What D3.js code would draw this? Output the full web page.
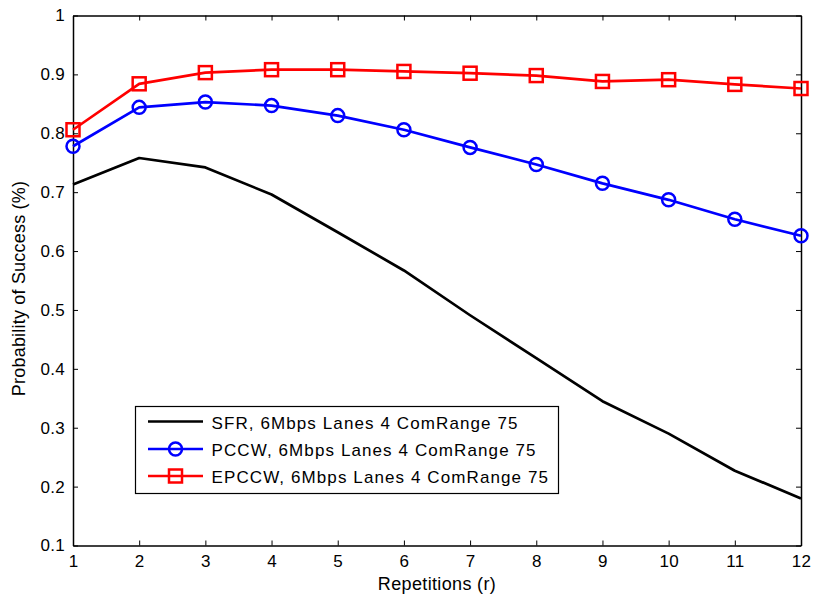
<!DOCTYPE html>
<html>
<head>
<meta charset="utf-8">
<script src="https://cdn.jsdelivr.net/npm/d3@7"></script>
<style>
  html, body { margin: 0; padding: 0; background: #fff; }
  svg { display: block; font-family: "Liberation Sans", Arial, sans-serif; }
</style>
</head>
<body>
<svg id="chart" width="814" height="599"></svg>
<script>
// Repetition counts along the x axis
const repetitions = [1, 2, 3, 4, 5, 6, 7, 8, 9, 10, 11, 12];

// Success probability per protocol
const sfrValues   = [0.713, 0.758, 0.742, 0.696, 0.632, 0.567, 0.491, 0.418, 0.345, 0.290, 0.227, 0.180];
const pccwValues  = [0.778, 0.844, 0.853, 0.847, 0.830, 0.806, 0.776, 0.747, 0.715, 0.687, 0.654, 0.626];
const epccwValues = [0.806, 0.884, 0.903, 0.908, 0.908, 0.905, 0.902, 0.898, 0.888, 0.891, 0.883, 0.876];

const seriesNames = [
  "SFR, 6Mbps Lanes 4 ComRange 75",
  "PCCW, 6Mbps Lanes 4 ComRange 75",
  "EPCCW, 6Mbps Lanes 4 ComRange 75"
];

const yTicks = [0.1, 0.2, 0.3, 0.4, 0.5, 0.6, 0.7, 0.8, 0.9, 1];

const series = [
  { name: seriesNames[0], values: sfrValues,   color: "#000000", marker: "none" },
  { name: seriesNames[1], values: pccwValues,  color: "#0000ff", marker: "circle" },
  { name: seriesNames[2], values: epccwValues, color: "#ff0000", marker: "square" }
];

const svg = d3.select("#chart");
const margin = { left: 73, right: 13, top: 15.5, bottom: 53.5 };
const W = 814, H = 599;
const x0 = margin.left, x1 = W - margin.right;
const y0 = H - margin.bottom, y1 = margin.top;

const x = d3.scaleLinear().domain([1, 12]).range([x0, x1]);
const y = d3.scaleLinear().domain([0.1, 1]).range([y0, y1]);

const tickFont = 17;

// Axes with inward ticks on all four sides
const axisBottom = d3.axisBottom(x).tickValues(repetitions).tickSizeInner(-5).tickSizeOuter(0).tickPadding(9).tickFormat(d3.format("d"));
const axisTop = d3.axisTop(x).tickValues(repetitions).tickSizeInner(-5).tickSizeOuter(0).tickFormat("");
const axisLeft = d3.axisLeft(y).tickValues(yTicks).tickSizeInner(-5).tickSizeOuter(0).tickPadding(8).tickFormat(d => d === 1 ? "1" : d3.format(".1f")(d));
const axisRight = d3.axisRight(y).tickValues(yTicks).tickSizeInner(-5).tickSizeOuter(0).tickFormat("");

function styleAxis(g) {
  g.select(".domain").attr("stroke", "#000").attr("stroke-width", 1.5);
  g.selectAll(".tick line").attr("stroke", "#000").attr("stroke-width", 1);
  g.selectAll(".tick text").attr("fill", "#000").attr("font-size", tickFont)
    .attr("font-family", "Liberation Sans, Arial, sans-serif").attr("letter-spacing", 0.3);
}

svg.append("g").attr("transform", `translate(0,${y0})`).call(axisBottom).call(styleAxis);
svg.append("g").attr("transform", `translate(0,${y1})`).call(axisTop).call(styleAxis);
svg.append("g").attr("transform", `translate(${x0},0)`).call(axisLeft).call(styleAxis);
svg.append("g").attr("transform", `translate(${x1},0)`).call(axisRight).call(styleAxis);

// Axis titles
svg.append("text")
  .attr("x", (x0 + x1) / 2).attr("y", 590)
  .attr("text-anchor", "middle").attr("font-size", 18).attr("letter-spacing", 0.35).attr("fill", "#000")
  .text("Repetitions (r)");
svg.append("text")
  .attr("transform", `translate(25,${(y0 + y1) / 2 + 8}) rotate(-90)`)
  .attr("text-anchor", "middle").attr("font-size", 18).attr("letter-spacing", 0.2).attr("fill", "#000")
  .text("Probability of Success (%)");

// Lines and markers
const line = d3.line().x((d, i) => x(repetitions[i])).y(d => y(d));

function drawMarker(g, type, cx, cy, color) {
  if (type === "circle") {
    g.append("circle").attr("cx", cx).attr("cy", cy).attr("r", 6.5)
      .attr("fill", "none").attr("stroke", color).attr("stroke-width", 2.5);
  } else if (type === "square") {
    g.append("rect").attr("x", cx - 6.5).attr("y", cy - 6.5).attr("width", 13).attr("height", 13)
      .attr("fill", "none").attr("stroke", color).attr("stroke-width", 2.5);
  }
}

series.forEach(s => {
  const g = svg.append("g");
  g.append("path").datum(s.values).attr("d", line)
    .attr("fill", "none").attr("stroke", s.color).attr("stroke-width", 2.7)
    .attr("stroke-linejoin", "round");
  s.values.forEach((v, i) => drawMarker(g, s.marker, x(repetitions[i]), y(v), s.color));
});

// Legend
const lg = svg.append("g");
lg.append("rect").attr("x", 135.5).attr("y", 406.5).attr("width", 423).attr("height", 87)
  .attr("fill", "#fff").attr("stroke", "#000").attr("stroke-width", 1.2);
const rowY = [421.5, 449, 476];
series.forEach((s, i) => {
  lg.append("line").attr("x1", 148).attr("x2", 203).attr("y1", rowY[i]).attr("y2", rowY[i])
    .attr("stroke", s.color).attr("stroke-width", 2.5);
  drawMarker(lg, s.marker, 175.5, rowY[i], s.color);
  lg.append("text").attr("x", 211.5).attr("y", rowY[i] + 7)
    .attr("font-size", 17).attr("letter-spacing", 1.1).attr("fill", "#000").text(s.name);
});
</script>
</body>
</html>
